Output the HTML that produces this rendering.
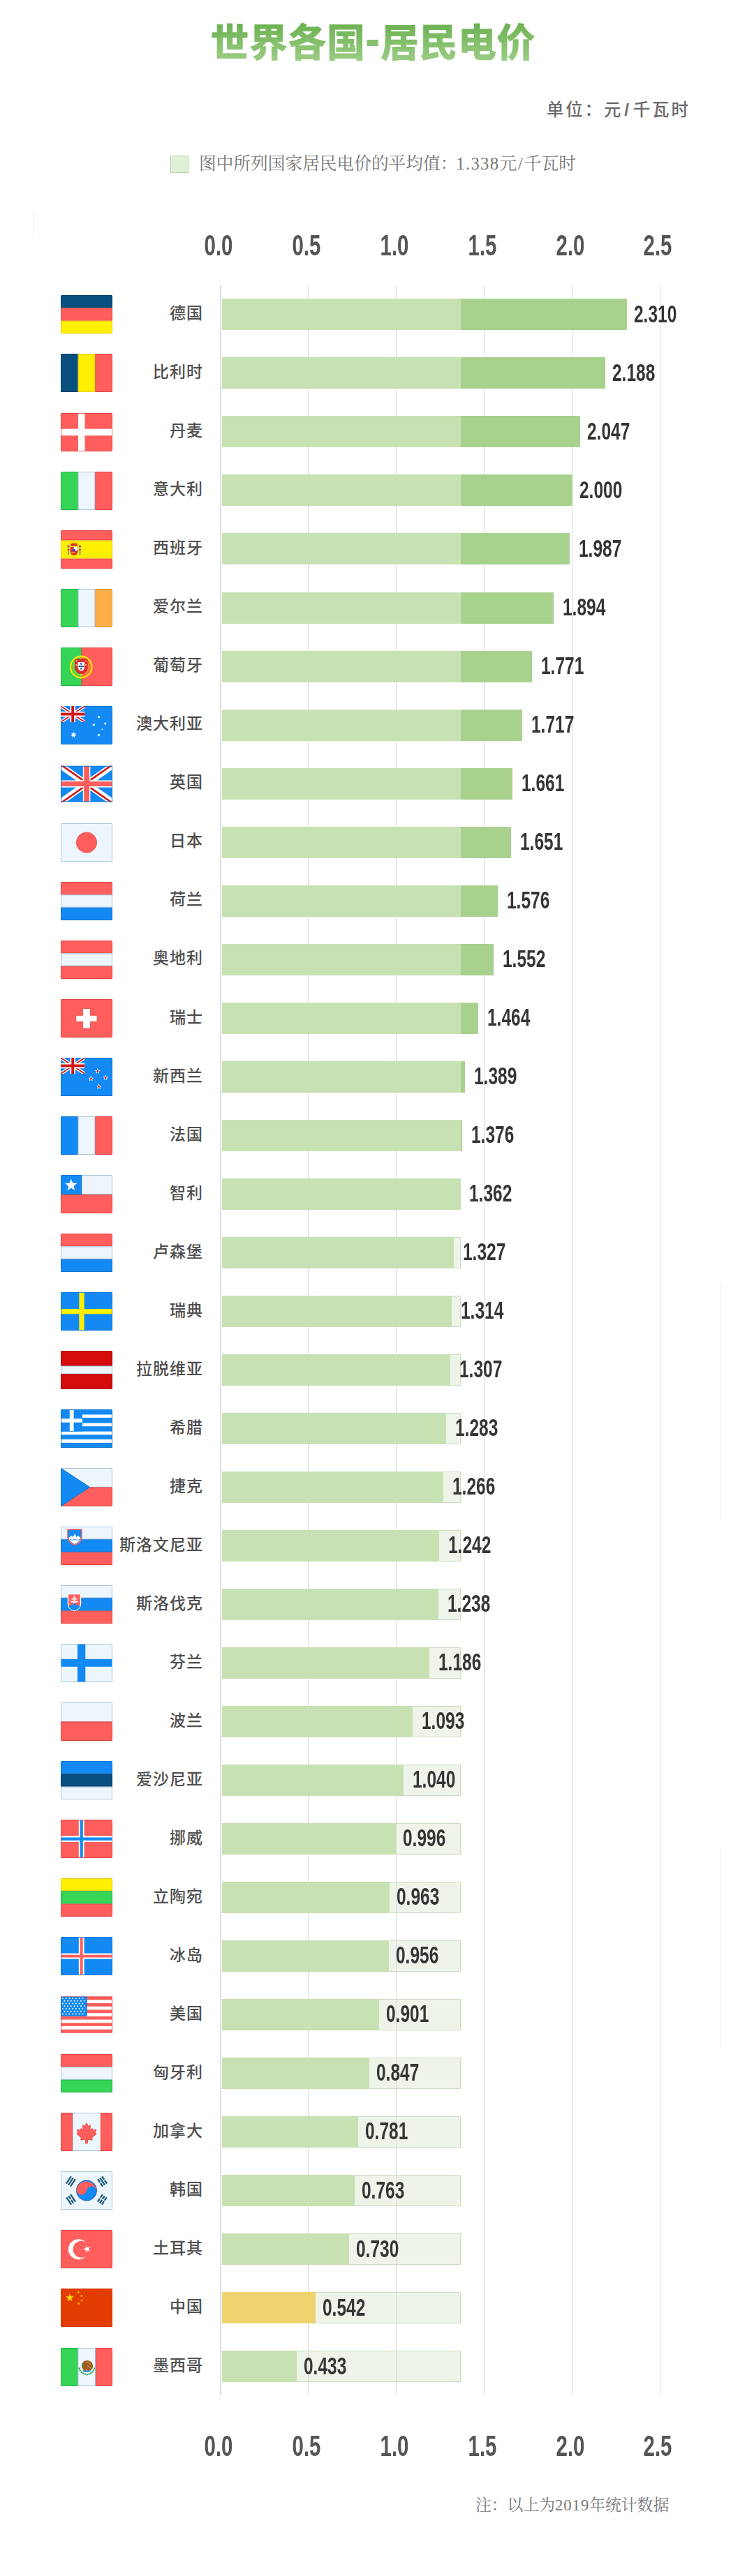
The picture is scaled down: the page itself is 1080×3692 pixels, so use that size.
<!DOCTYPE html>
<html lang="zh-CN"><head><meta charset="utf-8"><title>世界各国-居民电价</title>
<style>
html,body{margin:0;padding:0;background:#fff;}
body{width:1080px;height:3692px;position:relative;overflow:hidden;font-family:"Liberation Sans","Noto Sans CJK SC",sans-serif;}
.title{position:absolute;left:-6px;width:1080px;top:27px;text-align:center;font-family:"Liberation Sans","Noto Sans CJK SC",sans-serif;font-weight:900;font-size:55.5px;line-height:70px;letter-spacing:0px;
 background:linear-gradient(180deg,#66AE4C 0%,#A4D18D 100%);-webkit-background-clip:text;background-clip:text;color:transparent;}
.hy{display:inline-block;margin:0 2.5px 0 0.5px;transform:translate(0.5px,-7.4px) scale(1.15,1.38);background:linear-gradient(180deg,#66AE4C -60%,#A4D18D 160%);-webkit-background-clip:text;background-clip:text;color:transparent;}
.unit{position:absolute;left:783px;top:140px;font-family:"Liberation Sans","Noto Sans CJK SC",sans-serif;font-weight:500;font-size:24.5px;letter-spacing:2.8px;line-height:36px;color:#6b6b6b;white-space:nowrap;}
.legend{position:absolute;left:244.4px;top:222.8px;width:26px;height:25.6px;box-sizing:border-box;background:#E0F0D6;border:1.6px solid #AFD69C;}
.legtxt{position:absolute;left:285px;top:216.5px;font-family:"Liberation Serif","Noto Serif CJK SC",serif;font-size:24.7px;line-height:36px;color:#777;white-space:nowrap;}
.axrow{position:absolute;left:0;width:1080px;height:40px;}
.ax{position:absolute;top:0;width:80px;text-align:center;font-family:"Liberation Sans",sans-serif;font-weight:700;font-size:42px;line-height:40px;color:#555558;transform:scaleX(0.70);}
.gl{position:absolute;top:409px;height:3024px;width:1px;background:#D9D9DD;}
.axis{position:absolute;left:315px;top:409px;height:3024px;width:2px;background:#DCDCE0;}
.flag{position:absolute;left:86.6px;border-radius:1.5px;overflow:hidden;}
.lbl{position:absolute;right:790px;width:200px;text-align:right;font-family:"Liberation Sans","Noto Sans CJK SC",sans-serif;font-size:23px;font-weight:500;letter-spacing:1px;margin-right:-1px;line-height:40px;color:#4e4e4e;}
.box{position:absolute;left:318px;width:339.5px;height:43px;background:#EFF4EA;border:1px solid #CADDBF;}
.bar{position:absolute;left:318px;height:45px;}
.val{position:absolute;font-family:"Liberation Sans",sans-serif;font-weight:700;font-size:34.5px;line-height:40px;color:#353535;transform:scaleX(0.71);transform-origin:0 50%;white-space:nowrap;}
.note{position:absolute;left:681px;top:3574px;font-family:"Liberation Serif","Noto Serif CJK SC",serif;font-size:22.8px;line-height:34px;color:#777;white-space:nowrap;}
</style></head><body>
<div class="title">世界各国<span class="hy">-</span>居民电价</div>
<div class="unit">单位：元<span style="margin:0 3px 0 2px;font-weight:700">/</span>千瓦时</div>
<div class="legend"></div>
<div class="legtxt">图中所列国家居民电价的平均值：<span style="letter-spacing:1.3px;margin-left:-2px">1.338</span>元<span style="margin:0 2px">/</span>千瓦时</div>
<div class="axrow" style="top:332px"><div class="ax" style="left:273.0px">0.0</div><div class="ax" style="left:398.9px">0.5</div><div class="ax" style="left:524.8px">1.0</div><div class="ax" style="left:650.6px">1.5</div><div class="ax" style="left:776.5px">2.0</div><div class="ax" style="left:902.4px">2.5</div></div>
<div class="box" style="top:1688.8px"></div><div class="box" style="top:1772.8px"></div><div class="box" style="top:1856.8px"></div><div class="box" style="top:1940.8px"></div><div class="box" style="top:2024.9px"></div><div class="box" style="top:2108.9px"></div><div class="box" style="top:2192.9px"></div><div class="box" style="top:2277.0px"></div><div class="box" style="top:2361.0px"></div><div class="box" style="top:2445.0px"></div><div class="box" style="top:2529.1px"></div><div class="box" style="top:2613.1px"></div><div class="box" style="top:2697.1px"></div><div class="box" style="top:2781.1px"></div><div class="box" style="top:2865.2px"></div><div class="box" style="top:2949.2px"></div><div class="box" style="top:3033.2px"></div><div class="box" style="top:3117.3px"></div><div class="box" style="top:3201.3px"></div><div class="box" style="top:3285.3px"></div><div class="box" style="top:3369.4px"></div>
<div class="gl" style="left:441.4px"></div><div class="gl" style="left:567.2px"></div><div class="gl" style="left:693.1px"></div><div class="gl" style="left:819.0px"></div><div class="gl" style="left:944.9px"></div><div class="axis"></div><svg class="flag" style="top:423.4px" viewBox="0 0 74 55" width="74" height="55"><rect x="0.50" y="0.50" width="73.00" height="17.33" fill="#07507F" stroke="#053F66" stroke-width="1"/><rect x="0.50" y="18.83" width="73.00" height="17.33" fill="#FF5E5C" stroke="#E2423F" stroke-width="1"/><rect x="0.50" y="37.17" width="73.00" height="17.33" fill="#FFEF00" stroke="#EAC800" stroke-width="1"/></svg><div class="lbl" style="top:429.1px">德国</div><div class="bar" style="top:428.3px;width:341.5px;background:#C7E1B3"></div><div class="bar" style="top:428.3px;left:659.5px;width:238.0px;background:#A9D18E"></div><div class="val" style="top:429.5px;left:907.5px">2.310</div><svg class="flag" style="top:507.4px" viewBox="0 0 74 55" width="74" height="55"><rect x="0.50" y="0.50" width="23.67" height="54.00" fill="#07507F" stroke="#053F66" stroke-width="1"/><rect x="25.17" y="0.50" width="23.67" height="54.00" fill="#FFEF00" stroke="#EAC800" stroke-width="1"/><rect x="49.83" y="0.50" width="23.67" height="54.00" fill="#FF5E5C" stroke="#E2423F" stroke-width="1"/></svg><div class="lbl" style="top:513.1px">比利时</div><div class="bar" style="top:512.3px;width:341.5px;background:#C7E1B3"></div><div class="bar" style="top:512.3px;left:659.5px;width:207.3px;background:#A9D18E"></div><div class="val" style="top:513.5px;left:876.8px">2.188</div><svg class="flag" style="top:591.5px" viewBox="0 0 74 55" width="74" height="55"><rect x="0.50" y="0.50" width="73.00" height="54.00" fill="#FF5E5C" stroke="#E2423F" stroke-width="1"/><rect x="25" y="0.8" width="9.5" height="53.4" fill="#fff"/><rect x="0.8" y="22.7" width="72.4" height="9.6" fill="#fff"/></svg><div class="lbl" style="top:597.2px">丹麦</div><div class="bar" style="top:596.4px;width:341.5px;background:#C7E1B3"></div><div class="bar" style="top:596.4px;left:659.5px;width:171.8px;background:#A9D18E"></div><div class="val" style="top:597.6px;left:841.3px">2.047</div><svg class="flag" style="top:675.5px" viewBox="0 0 74 55" width="74" height="55"><rect x="0.50" y="0.50" width="23.67" height="54.00" fill="#36D457" stroke="#20B244" stroke-width="1"/><rect x="25.17" y="0.50" width="23.67" height="54.00" fill="#EDF6FD" stroke="#A8C6DE" stroke-width="1"/><rect x="49.83" y="0.50" width="23.67" height="54.00" fill="#FF5E5C" stroke="#E2423F" stroke-width="1"/></svg><div class="lbl" style="top:681.2px">意大利</div><div class="bar" style="top:680.4px;width:341.5px;background:#C7E1B3"></div><div class="bar" style="top:680.4px;left:659.5px;width:160.0px;background:#A9D18E"></div><div class="val" style="top:681.6px;left:829.5px">2.000</div><svg class="flag" style="top:759.5px" viewBox="0 0 74 55" width="74" height="55"><rect x="0.50" y="0.50" width="73.00" height="13.50" fill="#FF5E5C" stroke="#E2423F" stroke-width="1"/><rect x="0.50" y="41.00" width="73.00" height="13.50" fill="#FF5E5C" stroke="#E2423F" stroke-width="1"/><rect x="0.50" y="15.00" width="73.00" height="25.00" fill="#FFEF00" stroke="#EAC800" stroke-width="1"/><g><rect x="10" y="21" width="2" height="14" fill="#8FA3B5"/><rect x="26.5" y="21" width="2" height="14" fill="#8FA3B5"/><rect x="9.6" y="27" width="2.8" height="1.6" fill="#E03030"/><rect x="26.1" y="27" width="2.8" height="1.6" fill="#E03030"/><rect x="9.5" y="22" width="3" height="2" fill="#E03030"/><rect x="26" y="22" width="3" height="2" fill="#E03030"/><path d="M13.5 24 h11 v6 a5.5 6 0 0 1 -11 0z" fill="#E03030"/><circle cx="21.5" cy="26.5" r="3" fill="#fff"/><circle cx="19" cy="28.5" r="2" fill="#1060D0"/><path d="M14 19.5 q5 -3 10 0 v3 h-10z" fill="#E03030"/><rect x="17.5" y="17.5" width="3" height="2" fill="#E8B000"/><path d="M14 31 q4 4 7 0z" fill="#F0A000"/></g></svg><div class="lbl" style="top:765.2px">西班牙</div><div class="bar" style="top:764.4px;width:341.5px;background:#C7E1B3"></div><div class="bar" style="top:764.4px;left:659.5px;width:156.7px;background:#A9D18E"></div><div class="val" style="top:765.6px;left:829.2px">1.987</div><svg class="flag" style="top:843.6px" viewBox="0 0 74 55" width="74" height="55"><rect x="0.50" y="0.50" width="23.67" height="54.00" fill="#36D457" stroke="#20B244" stroke-width="1"/><rect x="25.17" y="0.50" width="23.67" height="54.00" fill="#EDF6FD" stroke="#A8C6DE" stroke-width="1"/><rect x="49.83" y="0.50" width="23.67" height="54.00" fill="#FFAE48" stroke="#E69230" stroke-width="1"/></svg><div class="lbl" style="top:849.2px">爱尔兰</div><div class="bar" style="top:848.5px;width:341.5px;background:#C7E1B3"></div><div class="bar" style="top:848.5px;left:659.5px;width:133.3px;background:#A9D18E"></div><div class="val" style="top:849.7px;left:805.8px">1.894</div><svg class="flag" style="top:927.6px" viewBox="0 0 74 55" width="74" height="55"><rect x="0.50" y="0.50" width="29.50" height="54.00" fill="#36D457" stroke="#20B244" stroke-width="1"/><rect x="30.00" y="0.50" width="43.50" height="54.00" fill="#FF5E5C" stroke="#E2423F" stroke-width="1"/><circle cx="29.3" cy="28" r="15.2" fill="none" stroke="#FFE600" stroke-width="2.4"/><circle cx="29.3" cy="28" r="11.5" fill="none" stroke="#F0C800" stroke-width="0.9"/><path d="M19.5 28 h19.6 M29.3 14 v28" stroke="#F0C800" stroke-width="0.9"/><path d="M20.5 17 h17.6 v11 a8.8 9.6 0 0 1 -17.6 0z" fill="#E42A2A" stroke="#C81818" stroke-width="0.8"/><g fill="#FFE070"><rect x="21.6" y="18.2" width="1.8" height="1.8"/><rect x="35.2" y="18.2" width="1.8" height="1.8"/><rect x="21.6" y="24" width="1.8" height="1.8"/><rect x="35.2" y="24" width="1.8" height="1.8"/><rect x="28.4" y="37.8" width="1.8" height="1.8"/></g><path d="M24.6 21 h9.4 v7 a4.7 5.6 0 0 1 -9.4 0z" fill="#fff"/><g fill="#1040B0"><circle cx="29.3" cy="23.6" r="1.25"/><circle cx="26.8" cy="27" r="1.25"/><circle cx="29.3" cy="27" r="1.25"/><circle cx="31.8" cy="27" r="1.25"/><circle cx="29.3" cy="30.4" r="1.25"/></g></svg><div class="lbl" style="top:933.3px">葡萄牙</div><div class="bar" style="top:932.5px;width:341.5px;background:#C7E1B3"></div><div class="bar" style="top:932.5px;left:659.5px;width:102.3px;background:#A9D18E"></div><div class="val" style="top:933.7px;left:774.8px">1.771</div><svg class="flag" style="top:1011.6px" viewBox="0 0 74 55" width="74" height="55"><rect x="0.50" y="0.50" width="73.00" height="54.00" fill="#1389F4" stroke="#0C72D0" stroke-width="1"/><g><svg x="0" y="0" width="34.5" height="23" viewBox="0 0 34.5 23" overflow="hidden"><rect x="0" y="0" width="34.5" height="23" fill="#1389F4"/><g stroke="#fff" stroke-width="4.60"><line x1="0" y1="0" x2="34.5" y2="23"/><line x1="34.5" y1="0" x2="0" y2="23"/></g><g stroke="#D41414" stroke-width="1.72"><line x1="0" y1="0" x2="34.5" y2="23"/><line x1="34.5" y1="0" x2="0" y2="23"/></g><rect x="13.57" y="0" width="7.36" height="23" fill="#fff"/><rect x="0" y="7.82" width="34.5" height="7.36" fill="#fff"/><rect x="15.29" y="0" width="3.91" height="23" fill="#D41414"/><rect x="0" y="9.54" width="34.5" height="3.91" fill="#D41414"/></svg></g><polygon points="18.50,36.70 19.40,39.43 22.10,38.43 20.52,40.84 22.98,42.32 20.12,42.59 20.50,45.44 18.50,43.37 16.50,45.44 16.88,42.59 14.02,42.32 16.48,40.84 14.90,38.43 17.60,39.43" fill="#fff"/><polygon points="54.60,13.40 55.08,14.61 56.32,14.23 55.67,15.36 56.74,16.09 55.46,16.29 55.55,17.58 54.60,16.70 53.65,17.58 53.74,16.29 52.46,16.09 53.53,15.36 52.88,14.23 54.12,14.61" fill="#fff"/><polygon points="47.30,24.60 47.78,25.81 49.02,25.43 48.37,26.56 49.44,27.29 48.16,27.49 48.25,28.78 47.30,27.90 46.35,28.78 46.44,27.49 45.16,27.29 46.23,26.56 45.58,25.43 46.82,25.81" fill="#fff"/><polygon points="63.80,22.70 64.28,23.91 65.52,23.53 64.87,24.66 65.94,25.39 64.66,25.59 64.75,26.88 63.80,26.00 62.85,26.88 62.94,25.59 61.66,25.39 62.73,24.66 62.08,23.53 63.32,23.91" fill="#fff"/><polygon points="59.40,31.90 59.73,32.85 60.73,32.87 59.93,33.47 60.22,34.43 59.40,33.86 58.58,34.43 58.87,33.47 58.07,32.87 59.07,32.85" fill="#fff"/><polygon points="54.60,39.30 55.08,40.51 56.32,40.13 55.67,41.26 56.74,41.99 55.46,42.19 55.55,43.48 54.60,42.60 53.65,43.48 53.74,42.19 52.46,41.99 53.53,41.26 52.88,40.13 54.12,40.51" fill="#fff"/></svg><div class="lbl" style="top:1017.3px">澳大利亚</div><div class="bar" style="top:1016.5px;width:341.5px;background:#C7E1B3"></div><div class="bar" style="top:1016.5px;left:659.5px;width:88.8px;background:#A9D18E"></div><div class="val" style="top:1017.7px;left:761.3px">1.717</div><svg class="flag" style="top:1095.6px" viewBox="0 0 74 55" width="74" height="55"><g transform="translate(0,1.6)"><svg x="0" y="0" width="74" height="51.8" viewBox="0 0 74 51.8" overflow="hidden"><rect x="0" y="0" width="74" height="51.8" fill="#1389F4"/><g stroke="#fff" stroke-width="9"><line x1="0" y1="0" x2="74" y2="51.8"/><line x1="74" y1="0" x2="0" y2="51.8"/></g><g stroke="#D41414" stroke-width="2.6"><line x1="0" y1="-1.6" x2="37.0" y2="24.299999999999997"/><line x1="74" y1="53.4" x2="37.0" y2="27.5"/><line x1="74" y1="-1.6" x2="37.0" y2="24.299999999999997"/><line x1="0" y1="53.4" x2="37.0" y2="27.5"/></g><rect x="31.8" y="0" width="10.6" height="51.8" fill="#fff"/><rect x="0" y="20.80" width="74" height="10.2" fill="#fff"/><rect x="33.8" y="0.5" width="6.6" height="50.8" fill="#FF5E5C" stroke="#E2423F" stroke-width="0.7"/><rect x="0.5" y="22.85" width="73" height="6.1" fill="#FF5E5C" stroke="#E2423F" stroke-width="0.7"/><rect x="34.2" y="23.25" width="5.8" height="5.3" fill="#FF5E5C"/><rect x="0.5" y="0.5" width="73" height="50.8" fill="none" stroke="#0C72D0" stroke-width="1"/></svg></g></svg><div class="lbl" style="top:1101.3px">英国</div><div class="bar" style="top:1100.5px;width:341.5px;background:#C7E1B3"></div><div class="bar" style="top:1100.5px;left:659.5px;width:74.7px;background:#A9D18E"></div><div class="val" style="top:1101.7px;left:747.2px">1.661</div><svg class="flag" style="top:1179.7px" viewBox="0 0 74 55" width="74" height="55"><rect x="0.50" y="0.50" width="73.00" height="54.00" fill="#EDF6FD" stroke="#A8C6DE" stroke-width="1"/><circle cx="37" cy="27.5" r="14.6" fill="#FF5E5C" stroke="#E2423F" stroke-width="0.8"/></svg><div class="lbl" style="top:1185.4px">日本</div><div class="bar" style="top:1184.6px;width:341.5px;background:#C7E1B3"></div><div class="bar" style="top:1184.6px;left:659.5px;width:72.1px;background:#A9D18E"></div><div class="val" style="top:1185.8px;left:744.6px">1.651</div><svg class="flag" style="top:1263.7px" viewBox="0 0 74 55" width="74" height="55"><rect x="0.50" y="0.50" width="73.00" height="17.33" fill="#FF5E5C" stroke="#E2423F" stroke-width="1"/><rect x="0.50" y="18.83" width="73.00" height="17.33" fill="#EDF6FD" stroke="#A8C6DE" stroke-width="1"/><rect x="0.50" y="37.17" width="73.00" height="17.33" fill="#1389F4" stroke="#0C72D0" stroke-width="1"/></svg><div class="lbl" style="top:1269.4px">荷兰</div><div class="bar" style="top:1268.6px;width:341.5px;background:#C7E1B3"></div><div class="bar" style="top:1268.6px;left:659.5px;width:53.3px;background:#A9D18E"></div><div class="val" style="top:1269.8px;left:725.8px">1.576</div><svg class="flag" style="top:1347.7px" viewBox="0 0 74 55" width="74" height="55"><rect x="0.50" y="0.50" width="73.00" height="17.33" fill="#FF5E5C" stroke="#E2423F" stroke-width="1"/><rect x="0.50" y="18.83" width="73.00" height="17.33" fill="#EDF6FD" stroke="#A8C6DE" stroke-width="1"/><rect x="0.50" y="37.17" width="73.00" height="17.33" fill="#FF5E5C" stroke="#E2423F" stroke-width="1"/></svg><div class="lbl" style="top:1353.4px">奥地利</div><div class="bar" style="top:1352.6px;width:341.5px;background:#C7E1B3"></div><div class="bar" style="top:1352.6px;left:659.5px;width:47.2px;background:#A9D18E"></div><div class="val" style="top:1353.8px;left:719.7px">1.552</div><svg class="flag" style="top:1431.8px" viewBox="0 0 74 55" width="74" height="55"><rect x="0.50" y="0.50" width="73.00" height="54.00" fill="#FF5E5C" stroke="#E2423F" stroke-width="1"/><path d="M32.6 13.5 h8.8 a1 1 0 0 1 1 1 v8.8 h8.8 a1 1 0 0 1 1 1 v7 a1 1 0 0 1 -1 1 h-8.8 v8.8 a1 1 0 0 1 -1 1 h-8.8 a1 1 0 0 1 -1 -1 v-8.8 h-8.8 a1 1 0 0 1 -1 -1 v-7 a1 1 0 0 1 1 -1 h8.8 v-8.8 a1 1 0 0 1 1 -1z" fill="#fff" stroke="#E2423F" stroke-width="0.8"/></svg><div class="lbl" style="top:1437.5px">瑞士</div><div class="bar" style="top:1436.7px;width:341.5px;background:#C7E1B3"></div><div class="bar" style="top:1436.7px;left:659.5px;width:25.1px;background:#A9D18E"></div><div class="val" style="top:1437.9px;left:697.6px">1.464</div><svg class="flag" style="top:1515.8px" viewBox="0 0 74 55" width="74" height="55"><rect x="0.50" y="0.50" width="73.00" height="54.00" fill="#1389F4" stroke="#0C72D0" stroke-width="1"/><svg x="0" y="0" width="34.5" height="23" viewBox="0 0 34.5 23" overflow="hidden"><rect x="0" y="0" width="34.5" height="23" fill="#1389F4"/><g stroke="#fff" stroke-width="4.60"><line x1="0" y1="0" x2="34.5" y2="23"/><line x1="34.5" y1="0" x2="0" y2="23"/></g><g stroke="#D41414" stroke-width="1.72"><line x1="0" y1="0" x2="34.5" y2="23"/><line x1="34.5" y1="0" x2="0" y2="23"/></g><rect x="13.57" y="0" width="7.36" height="23" fill="#fff"/><rect x="0" y="7.82" width="34.5" height="7.36" fill="#fff"/><rect x="15.29" y="0" width="3.91" height="23" fill="#D41414"/><rect x="0" y="9.54" width="34.5" height="3.91" fill="#D41414"/></svg><polygon points="52.80,15.10 53.81,18.01 56.89,18.07 54.44,19.93 55.33,22.88 52.80,21.12 50.27,22.88 51.16,19.93 48.71,18.07 51.79,18.01" fill="#fff"/><polygon points="52.80,17.00 53.36,18.62 55.08,18.66 53.71,19.70 54.21,21.34 52.80,20.36 51.39,21.34 51.89,19.70 50.52,18.66 52.24,18.62" fill="#D41414"/><polygon points="43.30,25.80 44.31,28.71 47.39,28.77 44.94,30.63 45.83,33.58 43.30,31.82 40.77,33.58 41.66,30.63 39.21,28.77 42.29,28.71" fill="#fff"/><polygon points="43.30,27.70 43.86,29.32 45.58,29.36 44.21,30.40 44.71,32.04 43.30,31.06 41.89,32.04 42.39,30.40 41.02,29.36 42.74,29.32" fill="#D41414"/><polygon points="64.10,24.30 65.11,27.21 68.19,27.27 65.74,29.13 66.63,32.08 64.10,30.32 61.57,32.08 62.46,29.13 60.01,27.27 63.09,27.21" fill="#fff"/><polygon points="64.10,26.20 64.66,27.82 66.38,27.86 65.01,28.90 65.51,30.54 64.10,29.56 62.69,30.54 63.19,28.90 61.82,27.86 63.54,27.82" fill="#D41414"/><polygon points="54.60,37.10 55.61,40.01 58.69,40.07 56.24,41.93 57.13,44.88 54.60,43.12 52.07,44.88 52.96,41.93 50.51,40.07 53.59,40.01" fill="#fff"/><polygon points="54.60,39.00 55.16,40.62 56.88,40.66 55.51,41.70 56.01,43.34 54.60,42.36 53.19,43.34 53.69,41.70 52.32,40.66 54.04,40.62" fill="#D41414"/></svg><div class="lbl" style="top:1521.5px">新西兰</div><div class="bar" style="top:1520.7px;width:341.5px;background:#C7E1B3"></div><div class="bar" style="top:1520.7px;left:659.5px;width:6.2px;background:#A9D18E"></div><div class="val" style="top:1521.9px;left:678.7px">1.389</div><svg class="flag" style="top:1599.8px" viewBox="0 0 74 55" width="74" height="55"><rect x="0.50" y="0.50" width="23.67" height="54.00" fill="#1389F4" stroke="#0C72D0" stroke-width="1"/><rect x="25.17" y="0.50" width="23.67" height="54.00" fill="#EDF6FD" stroke="#A8C6DE" stroke-width="1"/><rect x="49.83" y="0.50" width="23.67" height="54.00" fill="#FF5E5C" stroke="#E2423F" stroke-width="1"/></svg><div class="lbl" style="top:1605.5px">法国</div><div class="bar" style="top:1604.7px;width:341.5px;background:#C7E1B3"></div><div class="bar" style="top:1604.7px;left:659.5px;width:2.9px;background:#A9D18E"></div><div class="val" style="top:1605.9px;left:675.4px">1.376</div><svg class="flag" style="top:1683.8px" viewBox="0 0 74 55" width="74" height="55"><rect x="0.50" y="28.00" width="73.00" height="26.50" fill="#FF5E5C" stroke="#E2423F" stroke-width="1"/><rect x="30.00" y="0.50" width="43.50" height="27.00" fill="#EDF6FD" stroke="#A8C6DE" stroke-width="1"/><rect x="0.50" y="0.50" width="29.00" height="27.00" fill="#1389F4" stroke="#0C72D0" stroke-width="1"/><polygon points="14.90,5.50 17.17,11.57 23.65,11.86 18.57,15.89 20.31,22.14 14.90,18.56 9.49,22.14 11.23,15.89 6.15,11.86 12.63,11.57" fill="#fff"/></svg><div class="lbl" style="top:1689.5px">智利</div><div class="bar" style="top:1688.8px;width:340.9px;background:#C7E1B3"></div><div class="val" style="top:1690.0px;left:671.9px">1.362</div><svg class="flag" style="top:1767.9px" viewBox="0 0 74 55" width="74" height="55"><rect x="0.50" y="0.50" width="73.00" height="17.33" fill="#FF5E5C" stroke="#E2423F" stroke-width="1"/><rect x="0.50" y="18.83" width="73.00" height="17.33" fill="#EDF6FD" stroke="#A8C6DE" stroke-width="1"/><rect x="0.50" y="37.17" width="73.00" height="17.33" fill="#1389F4" stroke="#0C72D0" stroke-width="1"/></svg><div class="lbl" style="top:1773.6px">卢森堡</div><div class="bar" style="top:1772.8px;width:332.1px;background:#C7E1B3"></div><div class="val" style="top:1774.0px;left:663.1px">1.327</div><svg class="flag" style="top:1851.9px" viewBox="0 0 74 55" width="74" height="55"><rect x="0.50" y="0.50" width="73.00" height="54.00" fill="#1389F4" stroke="#0C72D0" stroke-width="1"/><rect x="26.3" y="0.8" width="7.3" height="53.4" fill="#FFEF00"/><rect x="0.8" y="24" width="72.4" height="7.3" fill="#FFEF00"/></svg><div class="lbl" style="top:1857.6px">瑞典</div><div class="bar" style="top:1856.8px;width:328.8px;background:#C7E1B3"></div><div class="val" style="top:1858.0px;left:659.8px">1.314</div><svg class="flag" style="top:1935.9px" viewBox="0 0 74 55" width="74" height="55"><rect x="0.50" y="0.50" width="73.00" height="21.00" fill="#D40C0C" stroke="#B00000" stroke-width="1"/><rect x="0.50" y="22.00" width="73.00" height="11.00" fill="#EDF6FD" stroke="#A8C6DE" stroke-width="1"/><rect x="0.50" y="33.50" width="73.00" height="21.00" fill="#D40C0C" stroke="#B00000" stroke-width="1"/></svg><div class="lbl" style="top:1941.6px">拉脱维亚</div><div class="bar" style="top:1940.8px;width:327.0px;background:#C7E1B3"></div><div class="val" style="top:1942.0px;left:658.0px">1.307</div><svg class="flag" style="top:2020.0px" viewBox="0 0 74 55" width="74" height="55"><rect x="0" y="0" width="74" height="55" fill="#1389F4"/><rect x="0" y="7.4" width="74" height="4.50" fill="#fff"/><rect x="0" y="19.6" width="74" height="4.60" fill="#fff"/><rect x="0" y="31.6" width="74" height="4.70" fill="#fff"/><rect x="0" y="43" width="74" height="5.00" fill="#fff"/><rect x="0" y="0" width="31" height="31.6" fill="#1389F4"/><rect x="12.8" y="0.8" width="5.8" height="30" fill="#fff"/><rect x="0.8" y="13.3" width="30.2" height="5.4" fill="#fff"/><rect x="0.5" y="0.5" width="73" height="54" fill="none" stroke="#0C72D0" stroke-width="1"/></svg><div class="lbl" style="top:2025.7px">希腊</div><div class="bar" style="top:2024.9px;width:321.0px;background:#C7E1B3"></div><div class="val" style="top:2026.1px;left:652.0px">1.283</div><svg class="flag" style="top:2104.0px" viewBox="0 0 74 55" width="74" height="55"><rect x="0.50" y="0.50" width="73.00" height="27.00" fill="#EDF6FD" stroke="#A8C6DE" stroke-width="1"/><rect x="0.50" y="28.00" width="73.00" height="26.50" fill="#FF5E5C" stroke="#E2423F" stroke-width="1"/><polygon points="0.5,0.5 41.5,27.5 0.5,54.5" fill="#1389F4" stroke="#0C72D0" stroke-width="1"/></svg><div class="lbl" style="top:2109.7px">捷克</div><div class="bar" style="top:2108.9px;width:316.7px;background:#C7E1B3"></div><div class="val" style="top:2110.1px;left:647.7px">1.266</div><svg class="flag" style="top:2188.0px" viewBox="0 0 74 55" width="74" height="55"><rect x="0.50" y="0.50" width="73.00" height="17.33" fill="#EDF6FD" stroke="#A8C6DE" stroke-width="1"/><rect x="0.50" y="18.83" width="73.00" height="17.33" fill="#1389F4" stroke="#0C72D0" stroke-width="1"/><rect x="0.50" y="37.17" width="73.00" height="17.33" fill="#FF5E5C" stroke="#E2423F" stroke-width="1"/><path d="M10 4 h20 v11 q0 8 -10 11 q-10 -3 -10 -11z" fill="#1389F4" stroke="#FF5E5C" stroke-width="1.6"/><path d="M11.5 16 l4 -3 l2 2 l2.5 -5 l2.5 5 l2 -2 l4 3 q-1 6 -8.5 9 q-7.5 -3 -8.5 -9z" fill="#fff"/><path d="M13 18.5 q3.5 1.5 7 0 q3.5 1.5 7 0" fill="none" stroke="#1389F4" stroke-width="0.9"/></svg><div class="lbl" style="top:2193.7px">斯洛文尼亚</div><div class="bar" style="top:2192.9px;width:310.7px;background:#C7E1B3"></div><div class="val" style="top:2194.1px;left:641.7px">1.242</div><svg class="flag" style="top:2272.1px" viewBox="0 0 74 55" width="74" height="55"><rect x="0.50" y="0.50" width="73.00" height="17.33" fill="#EDF6FD" stroke="#A8C6DE" stroke-width="1"/><rect x="0.50" y="18.83" width="73.00" height="17.33" fill="#1389F4" stroke="#0C72D0" stroke-width="1"/><rect x="0.50" y="37.17" width="73.00" height="17.33" fill="#FF5E5C" stroke="#E2423F" stroke-width="1"/><path d="M10.5 12.5 h18 v14 q0 8 -9 10 q-9 -2 -9 -10z" fill="#FF5E5C" stroke="#fff" stroke-width="1.4"/><path d="M18.6 15 h1.8 v4 h3.2 v1.6 h-3.2 v2.2 h4.2 v1.6 h-4.2 v4 h-1.8 v-4 h-4.2 v-1.6 h4.2 v-2.2 h-3.2 v-1.6 h3.2z" fill="#fff"/><path d="M11.5 30 q3 -3 5 -1 q1.5 -3.5 3 -3.5 q1.5 0 3 3.5 q2 -2 5 1 q-1 4 -8 6.5 q-7 -2.5 -8 -6.5z" fill="#1389F4"/></svg><div class="lbl" style="top:2277.8px">斯洛伐克</div><div class="bar" style="top:2277.0px;width:309.7px;background:#C7E1B3"></div><div class="val" style="top:2278.2px;left:640.7px">1.238</div><svg class="flag" style="top:2356.1px" viewBox="0 0 74 55" width="74" height="55"><rect x="0.50" y="0.50" width="73.00" height="54.00" fill="#EDF6FD" stroke="#A8C6DE" stroke-width="1"/><rect x="24" y="0.5" width="11.3" height="54" fill="#1389F4"/><rect x="0.5" y="21.8" width="73" height="11" fill="#1389F4"/></svg><div class="lbl" style="top:2361.8px">芬兰</div><div class="bar" style="top:2361.0px;width:296.6px;background:#C7E1B3"></div><div class="val" style="top:2362.2px;left:627.6px">1.186</div><svg class="flag" style="top:2440.1px" viewBox="0 0 74 55" width="74" height="55"><rect x="0.50" y="0.50" width="73.00" height="27.00" fill="#EDF6FD" stroke="#A8C6DE" stroke-width="1"/><rect x="0.50" y="28.00" width="73.00" height="26.50" fill="#FF5E5C" stroke="#E2423F" stroke-width="1"/></svg><div class="lbl" style="top:2445.8px">波兰</div><div class="bar" style="top:2445.0px;width:273.2px;background:#C7E1B3"></div><div class="val" style="top:2446.2px;left:604.2px">1.093</div><svg class="flag" style="top:2524.2px" viewBox="0 0 74 55" width="74" height="55"><rect x="0.50" y="0.50" width="73.00" height="17.33" fill="#1389F4" stroke="#0C72D0" stroke-width="1"/><rect x="0.50" y="18.83" width="73.00" height="17.33" fill="#07507F" stroke="#053F66" stroke-width="1"/><rect x="0.50" y="37.17" width="73.00" height="17.33" fill="#EDF6FD" stroke="#A8C6DE" stroke-width="1"/></svg><div class="lbl" style="top:2529.9px">爱沙尼亚</div><div class="bar" style="top:2529.1px;width:259.8px;background:#C7E1B3"></div><div class="val" style="top:2530.2px;left:590.8px">1.040</div><svg class="flag" style="top:2608.2px" viewBox="0 0 74 55" width="74" height="55"><rect x="0.50" y="0.50" width="73.00" height="54.00" fill="#FF5E5C" stroke="#E2423F" stroke-width="1"/><rect x="25.8" y="0.8" width="7.8" height="53.4" fill="#fff"/><rect x="0.8" y="23.3" width="72.4" height="8.7" fill="#fff"/><rect x="27.6" y="0.8" width="4.2" height="53.4" fill="#1389F4"/><rect x="0.8" y="25.5" width="72.4" height="4.3" fill="#1389F4"/></svg><div class="lbl" style="top:2613.9px">挪威</div><div class="bar" style="top:2613.1px;width:248.7px;background:#C7E1B3"></div><div class="val" style="top:2614.3px;left:576.7px">0.996</div><svg class="flag" style="top:2692.2px" viewBox="0 0 74 55" width="74" height="55"><rect x="0.50" y="0.50" width="73.00" height="17.33" fill="#FFEF00" stroke="#EAC800" stroke-width="1"/><rect x="0.50" y="18.83" width="73.00" height="17.33" fill="#36D457" stroke="#20B244" stroke-width="1"/><rect x="0.50" y="37.17" width="73.00" height="17.33" fill="#FF5E5C" stroke="#E2423F" stroke-width="1"/></svg><div class="lbl" style="top:2697.9px">立陶宛</div><div class="bar" style="top:2697.1px;width:240.4px;background:#C7E1B3"></div><div class="val" style="top:2698.3px;left:568.4px">0.963</div><svg class="flag" style="top:2776.2px" viewBox="0 0 74 55" width="74" height="55"><rect x="0.50" y="0.50" width="73.00" height="54.00" fill="#1389F4" stroke="#0C72D0" stroke-width="1"/><rect x="25.8" y="0.8" width="7.8" height="53.4" fill="#fff"/><rect x="0.8" y="23.6" width="72.4" height="8" fill="#fff"/><rect x="27.8" y="0.8" width="3.9" height="53.4" fill="#FF5E5C"/><rect x="0.8" y="25.7" width="72.4" height="3.8" fill="#FF5E5C"/></svg><div class="lbl" style="top:2781.9px">冰岛</div><div class="bar" style="top:2781.1px;width:238.7px;background:#C7E1B3"></div><div class="val" style="top:2782.3px;left:566.7px">0.956</div><svg class="flag" style="top:2860.3px" viewBox="0 0 74 55" width="74" height="55"><g transform="translate(0,1.6)"><rect x="0" y="0" width="74" height="51.8" fill="#FF5E5C"/><rect x="0" y="4.71" width="74" height="4.71" fill="#fff"/><rect x="0" y="14.13" width="74" height="4.71" fill="#fff"/><rect x="0" y="23.55" width="74" height="4.71" fill="#fff"/><rect x="0" y="32.96" width="74" height="4.71" fill="#fff"/><rect x="0" y="42.38" width="74" height="4.71" fill="#fff"/><rect x="0.5" y="0.5" width="73" height="50.8" fill="none" stroke="#E2423F" stroke-width="1"/><rect x="0.5" y="0.5" width="36.7" height="27.15" fill="#1389F4" stroke="#0C72D0" stroke-width="0.8"/><g fill="#fff"><circle cx="2.90" cy="2.30" r="1.0"/><circle cx="7.64" cy="2.30" r="1.0"/><circle cx="12.38" cy="2.30" r="1.0"/><circle cx="17.12" cy="2.30" r="1.0"/><circle cx="21.86" cy="2.30" r="1.0"/><circle cx="26.60" cy="2.30" r="1.0"/><circle cx="31.34" cy="2.30" r="1.0"/><circle cx="5.30" cy="6.07" r="1.0"/><circle cx="10.04" cy="6.07" r="1.0"/><circle cx="14.78" cy="6.07" r="1.0"/><circle cx="19.52" cy="6.07" r="1.0"/><circle cx="24.26" cy="6.07" r="1.0"/><circle cx="29.00" cy="6.07" r="1.0"/><circle cx="33.74" cy="6.07" r="1.0"/><circle cx="2.90" cy="9.84" r="1.0"/><circle cx="7.64" cy="9.84" r="1.0"/><circle cx="12.38" cy="9.84" r="1.0"/><circle cx="17.12" cy="9.84" r="1.0"/><circle cx="21.86" cy="9.84" r="1.0"/><circle cx="26.60" cy="9.84" r="1.0"/><circle cx="31.34" cy="9.84" r="1.0"/><circle cx="5.30" cy="13.61" r="1.0"/><circle cx="10.04" cy="13.61" r="1.0"/><circle cx="14.78" cy="13.61" r="1.0"/><circle cx="19.52" cy="13.61" r="1.0"/><circle cx="24.26" cy="13.61" r="1.0"/><circle cx="29.00" cy="13.61" r="1.0"/><circle cx="33.74" cy="13.61" r="1.0"/><circle cx="2.90" cy="17.38" r="1.0"/><circle cx="7.64" cy="17.38" r="1.0"/><circle cx="12.38" cy="17.38" r="1.0"/><circle cx="17.12" cy="17.38" r="1.0"/><circle cx="21.86" cy="17.38" r="1.0"/><circle cx="26.60" cy="17.38" r="1.0"/><circle cx="31.34" cy="17.38" r="1.0"/><circle cx="5.30" cy="21.15" r="1.0"/><circle cx="10.04" cy="21.15" r="1.0"/><circle cx="14.78" cy="21.15" r="1.0"/><circle cx="19.52" cy="21.15" r="1.0"/><circle cx="24.26" cy="21.15" r="1.0"/><circle cx="29.00" cy="21.15" r="1.0"/><circle cx="33.74" cy="21.15" r="1.0"/><circle cx="2.90" cy="24.92" r="1.0"/><circle cx="7.64" cy="24.92" r="1.0"/><circle cx="12.38" cy="24.92" r="1.0"/><circle cx="17.12" cy="24.92" r="1.0"/><circle cx="21.86" cy="24.92" r="1.0"/><circle cx="26.60" cy="24.92" r="1.0"/><circle cx="31.34" cy="24.92" r="1.0"/></g></g></svg><div class="lbl" style="top:2866.0px">美国</div><div class="bar" style="top:2865.2px;width:224.8px;background:#C7E1B3"></div><div class="val" style="top:2866.4px;left:552.8px">0.901</div><svg class="flag" style="top:2944.3px" viewBox="0 0 74 55" width="74" height="55"><rect x="0.50" y="0.50" width="73.00" height="17.33" fill="#FF5E5C" stroke="#E2423F" stroke-width="1"/><rect x="0.50" y="18.83" width="73.00" height="17.33" fill="#EDF6FD" stroke="#A8C6DE" stroke-width="1"/><rect x="0.50" y="37.17" width="73.00" height="17.33" fill="#36D457" stroke="#20B244" stroke-width="1"/></svg><div class="lbl" style="top:2950.0px">匈牙利</div><div class="bar" style="top:2949.2px;width:211.2px;background:#C7E1B3"></div><div class="val" style="top:2950.4px;left:539.2px">0.847</div><svg class="flag" style="top:3028.3px" viewBox="0 0 74 55" width="74" height="55"><rect x="16.50" y="0.50" width="41.00" height="54.00" fill="#EDF6FD" stroke="#A8C6DE" stroke-width="1"/><rect x="0.50" y="0.50" width="16.00" height="54.00" fill="#FF5E5C" stroke="#E2423F" stroke-width="1"/><rect x="57.50" y="0.50" width="16.00" height="54.00" fill="#FF5E5C" stroke="#E2423F" stroke-width="1"/><path d="M37 14.7 L39.6 19.2 L42.6 18 L41.8 25 L45 22.4 L46.2 25 L50.8 24.2 L49.4 29 L51.2 30 L44.6 36.2 L45.4 39 L38.4 38.4 L38.6 43.9 L35.4 43.9 L35.6 38.4 L28.6 39 L29.4 36.2 L22.8 30 L24.6 29 L23.2 24.2 L27.8 25 L29 22.4 L32.2 25 L31.4 18 L34.4 19.2 Z" fill="#FF5E5C" stroke="#E2423F" stroke-width="0.8" stroke-linejoin="round"/></svg><div class="lbl" style="top:3034.0px">加拿大</div><div class="bar" style="top:3033.2px;width:194.6px;background:#C7E1B3"></div><div class="val" style="top:3034.4px;left:522.6px">0.781</div><svg class="flag" style="top:3112.4px" viewBox="0 0 74 55" width="74" height="55"><rect x="0.50" y="0.50" width="73.00" height="54.00" fill="#EDF6FD" stroke="#A8C6DE" stroke-width="1"/><g transform="translate(14.5,14.5) rotate(-56)" fill="#1F5A7A"><rect x="-6.2" y="-4.90" width="12.4" height="2.3"/><rect x="-6.2" y="-1.30" width="12.4" height="2.3"/><rect x="-6.2" y="2.30" width="12.4" height="2.3"/></g><g transform="translate(59.5,14.5) rotate(56)" fill="#1F5A7A"><rect x="-6.2" y="-4.90" width="5.5" height="2.3"/><rect x="0.7" y="-4.90" width="5.5" height="2.3"/><rect x="-6.2" y="-1.30" width="12.4" height="2.3"/><rect x="-6.2" y="2.30" width="5.5" height="2.3"/><rect x="0.7" y="2.30" width="5.5" height="2.3"/></g><g transform="translate(14.5,40.5) rotate(56)" fill="#1F5A7A"><rect x="-6.2" y="-4.90" width="12.4" height="2.3"/><rect x="-6.2" y="-1.30" width="5.5" height="2.3"/><rect x="0.7" y="-1.30" width="5.5" height="2.3"/><rect x="-6.2" y="2.30" width="12.4" height="2.3"/></g><g transform="translate(59.5,40.5) rotate(-56)" fill="#1F5A7A"><rect x="-6.2" y="-4.90" width="5.5" height="2.3"/><rect x="0.7" y="-4.90" width="5.5" height="2.3"/><rect x="-6.2" y="-1.30" width="5.5" height="2.3"/><rect x="0.7" y="-1.30" width="5.5" height="2.3"/><rect x="-6.2" y="2.30" width="5.5" height="2.3"/><rect x="0.7" y="2.30" width="5.5" height="2.3"/></g><circle cx="37" cy="27.5" r="14.6" fill="#1389F4" stroke="#2060B0" stroke-width="1"/><path d="M22.7 25 A14.6 14.6 0 0 1 51.3 30 A7.15 7.15 0 0 0 37 27.5 A7.15 7.15 0 0 1 22.7 25Z" fill="#FF5E5C"/></svg><div class="lbl" style="top:3118.1px">韩国</div><div class="bar" style="top:3117.3px;width:190.1px;background:#C7E1B3"></div><div class="val" style="top:3118.5px;left:518.1px">0.763</div><svg class="flag" style="top:3196.4px" viewBox="0 0 74 55" width="74" height="55"><rect x="0.50" y="0.50" width="73.00" height="54.00" fill="#FF5E5C" stroke="#E2423F" stroke-width="1"/><circle cx="25.5" cy="27.8" r="14.6" fill="#fff"/><circle cx="29.6" cy="27.8" r="12" fill="#FF5E5C"/><polygon points="32.20,27.40 35.77,26.07 35.93,22.26 38.30,25.24 41.97,24.23 39.87,27.40 41.97,30.57 38.30,29.56 35.93,32.54 35.77,28.73" fill="#fff"/></svg><div class="lbl" style="top:3202.1px">土耳其</div><div class="bar" style="top:3201.3px;width:181.8px;background:#C7E1B3"></div><div class="val" style="top:3202.5px;left:509.8px">0.730</div><svg class="flag" style="top:3280.4px" viewBox="0 0 74 55" width="74" height="55"><rect x="0.5" y="0.5" width="73" height="54" fill="#E23C00" stroke="#D83400" stroke-width="1"/><polygon points="13.00,7.10 14.46,11.29 18.90,11.38 15.36,14.07 16.64,18.32 13.00,15.78 9.36,18.32 10.64,14.07 7.10,11.38 11.54,11.29" fill="#FFE000"/><polygon points="26.50,3.77 26.23,5.17 27.46,5.92 26.04,6.09 25.71,7.49 25.10,6.19 23.67,6.31 24.72,5.33 24.16,4.01 25.42,4.70" fill="#FFE000"/><polygon points="30.35,8.53 30.58,9.94 31.98,10.22 30.71,10.88 30.88,12.30 29.86,11.29 28.56,11.89 29.21,10.61 28.23,9.56 29.65,9.78" fill="#FFE000"/><polygon points="29.65,15.03 30.35,16.28 31.77,16.06 30.79,17.11 31.44,18.39 30.14,17.79 29.12,18.80 29.29,17.38 28.02,16.72 29.42,16.44" fill="#FFE000"/><polygon points="24.50,19.77 25.58,20.70 26.84,20.01 26.28,21.33 27.33,22.31 25.90,22.19 25.29,23.49 24.96,22.09 23.54,21.92 24.77,21.17" fill="#FFE000"/></svg><div class="lbl" style="top:3286.1px">中国</div><div class="bar" style="top:3285.3px;width:134.4px;background:#EFD36E"></div><div class="val" style="top:3286.5px;left:462.4px">0.542</div><svg class="flag" style="top:3364.5px" viewBox="0 0 74 55" width="74" height="55"><rect x="0.50" y="0.50" width="23.50" height="54.00" fill="#36D457" stroke="#20B244" stroke-width="1"/><rect x="25.00" y="0.50" width="24.50" height="54.00" fill="#EDF6FD" stroke="#A8C6DE" stroke-width="1"/><rect x="50.50" y="0.50" width="23.00" height="54.00" fill="#FF5E5C" stroke="#E2423F" stroke-width="1"/><path d="M26.5 28.5 q1 8 10.8 9.8 q9.8 -1.8 10.8 -9.8" fill="none" stroke="#2EA84E" stroke-width="2.2" stroke-dasharray="2.2 0.8"/><path d="M31 33 q6 4 12.5 0 q-2 -3 -6 -3 q-4 0 -6.5 3z" fill="#2A8FD0"/><path d="M30 24.5 q1.5 -6.5 8 -6.5 q7 0.5 8 7 q0.5 4 -2 6 q-3 1.8 -6 0.5 q-2.5 2 -5 0.2 q-3.5 -3 -3 -7.2z" fill="#A05A1A"/><path d="M36 21 q4 -1 7 3 M38 26 q3 1 5 3" fill="none" stroke="#E8C070" stroke-width="0.9"/><path d="M29.5 25 q1 -3 3.5 -2.5 q-1 2.5 -0.5 5 q-2 0 -3 -2.5z" fill="#3AA040"/><circle cx="37" cy="31.5" r="1.3" fill="#D8A020"/></svg><div class="lbl" style="top:3370.2px">墨西哥</div><div class="bar" style="top:3369.4px;width:107.0px;background:#C7E1B3"></div><div class="val" style="top:3370.6px;left:435.0px">0.433</div>
<div class="axrow" style="top:3486px"><div class="ax" style="left:273.0px">0.0</div><div class="ax" style="left:398.9px">0.5</div><div class="ax" style="left:524.8px">1.0</div><div class="ax" style="left:650.6px">1.5</div><div class="ax" style="left:776.5px">2.0</div><div class="ax" style="left:902.4px">2.5</div></div>
<div style="position:absolute;left:47px;top:306px;width:1px;height:35px;background:#EEEEEE"></div>
<div style="position:absolute;left:1032px;top:1841px;width:1px;height:340px;background:#F2F2F4"></div>
<div style="position:absolute;left:1032px;top:2647px;width:1px;height:290px;background:#F2F2F4"></div>
<div class="note">注：以上为<span style="letter-spacing:0.9px">2019</span>年统计数据</div>
</body></html>
